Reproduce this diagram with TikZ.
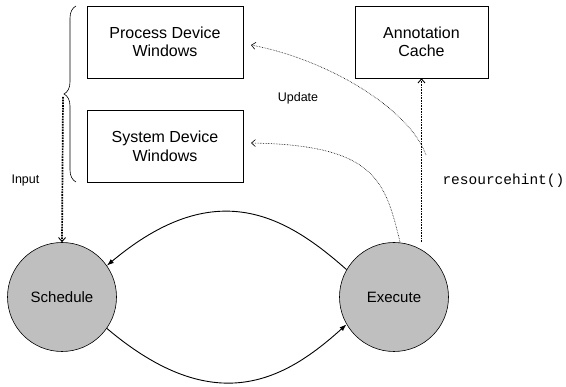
\documentclass[tikz,border=0pt]{standalone}
\usepackage{fontspec}
\setmainfont{Liberation Sans}
\newfontfamily\monof{Liberation Mono}
\usetikzlibrary{arrows.meta,decorations.pathreplacing}
\begin{document}
\begin{tikzpicture}[x=1pt,y=-1pt,
  boxnode/.style={draw,line width=0.6pt,minimum width=156pt,minimum height=72pt,inner sep=0pt,align=center,font=\fontsize{16}{18.5}\selectfont},
  statenode/.style={draw,circle,fill=black!25,line width=0.6pt,minimum size=109pt,inner sep=0pt,font=\fontsize{15}{17}\selectfont},
  thickdot/.style={densely dotted,line width=1.7pt,-{Straight Barb[length=4pt,width=7pt,line width=0.9pt]}},
  thindot/.style={densely dotted,line width=0.6pt,-{Straight Barb[length=4pt,width=7pt,line width=0.6pt]}},
  arc/.style={line width=0.9pt,-{Latex[length=7pt,width=5pt]}},
  smalltext/.style={font=\fontsize{12.5}{14}\selectfont}]
\useasboundingbox (0,0) rectangle (566,387);
\node[boxnode] (pdw) at (165,42) {Process Device\\Windows};
\node[boxnode] (sdw) at (165,146.5) {System Device\\Windows};
\node[boxnode,minimum width=133pt] (ac) at (421.5,42) {Annotation\\Cache};
\node[statenode] (sch) at (62,297) {Schedule};
\node[statenode] (exe) at (394,297) {Execute};
\draw[line width=0.6pt,decorate,decoration={brace,amplitude=12pt}] (76,182) -- (76,6);
\coordinate (btip) at (63,97);
\coordinate (rh) at (426,155);
\draw[thickdot] (btip) -- (sch.north);
\draw[thickdot] (exe.north -| ac.south) -- (ac.south);
\node[smalltext,anchor=west] (inp) at (8,180) {Input};
\node[smalltext] (upd) at (298,98) {Update};
\node[font=\monof\fontsize{14.5}{16}\selectfont,anchor=west] (rhl) at (439,181) {resourcehint()};
\draw[thindot] (rh) .. controls (410,110) and (330,60) .. (251,45);
\coordinate (s2) at (400,242);
\draw[thindot] (s2) .. controls (385,180) and (375,145) .. (251,143);
\draw[arc] (exe.150) .. controls (285,215) and (215,175) .. (sch.35);
\draw[arc] (sch.-35) .. controls (215,420) and (285,380) .. (exe.-150);
\end{tikzpicture}
\end{document}
